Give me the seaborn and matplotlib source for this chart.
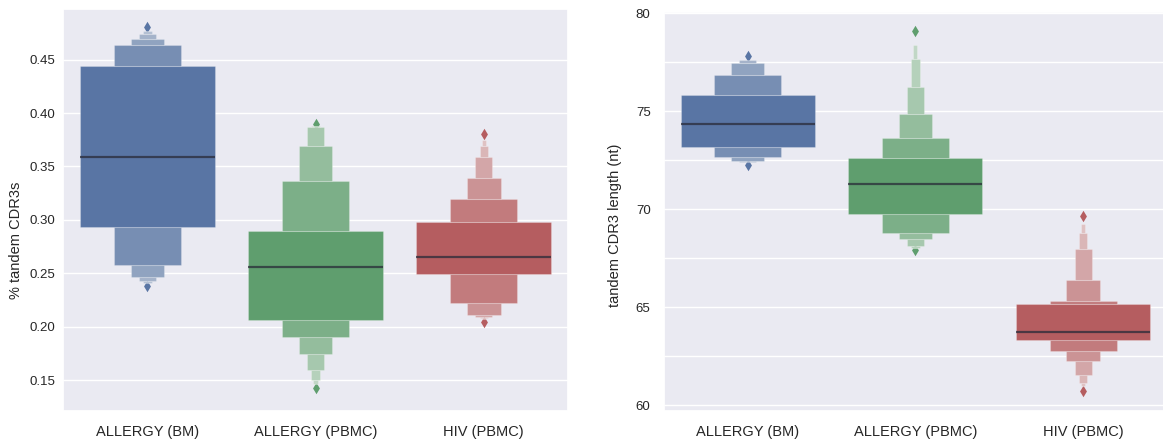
import numpy as np
import pandas as pd
import matplotlib
matplotlib.use("Agg")
import matplotlib.pyplot as plt
import seaborn as sns

# ---------------------------------------------------------------------------
# Sample groups and colours
groups = ["ALLERGY (BM)", "ALLERGY (PBMC)", "HIV (PBMC)"]
base_colors = ["#4C72B0", "#55A868", "#C44E52"]

# Letter values per group: lower tail (outermost -> innermost), median,
# upper tail (innermost -> outermost) and the single outlier on each side.
# ---- % tandem CDR3s
frac_lower = [
    [0.2404, 0.2425, 0.2466, 0.2575, 0.2930],
    [0.1460, 0.1497, 0.1596, 0.1747, 0.1902, 0.2061],
    [0.2068, 0.2078, 0.2092, 0.2111, 0.2223, 0.2494],
]
frac_median = [0.3591, 0.2560, 0.2653]
frac_upper = [
    [0.4441, 0.4637, 0.4693, 0.4740, 0.4771],
    [0.2899, 0.3364, 0.3693, 0.3871, 0.3876, 0.3882],
    [0.2983, 0.3195, 0.3392, 0.3593, 0.3693, 0.3750],
]
frac_out_low = [0.2380, 0.1425, 0.2042]
frac_out_high = [0.4804, 0.3900, 0.3803]

# ---- tandem CDR3 length (nt)
len_lower = [
    [72.39, 72.47, 72.67, 73.19],
    [68.00, 68.04, 68.10, 68.46, 68.80, 69.77],
    [60.99, 61.12, 61.52, 62.23, 62.77, 63.32],
]
len_median = [74.35, 71.29, 63.73]
len_upper = [
    [75.83, 76.87, 77.47, 77.62],
    [72.60, 73.62, 74.85, 76.23, 77.67, 78.39],
    [65.14, 65.31, 66.38, 67.98, 68.80, 69.23],
]
len_out_low = [72.28, 67.92, 60.71]
len_out_high = [77.82, 79.12, 69.67]

# Axis ticks
frac_ticks = [0.15, 0.20, 0.25, 0.30, 0.35, 0.40, 0.45]
frac_ticklabels = ["0.15", "0.20", "0.25", "0.30", "0.35", "0.40", "0.45"]
len_ticks = [60, 62.5, 65, 67.5, 70, 72.5, 75, 77.5, 80]
len_ticklabels = ["60", "", "65", "", "70", "", "75", "", "80"]


def observations(lower, median, upper, out_low, out_high):
    """Sorted sample of 2**(k+3)+1 values whose Tukey letter values are
    exactly the given ones (k = number of boxes per tail)."""
    k = len(lower)
    n_last = 2 ** (k + 3)
    lower_ranks = [2 ** (k + 3 - e) for e in range(k + 1, 1, -1)]
    upper_ranks = [n_last - 2 ** (k + 3 - e) for e in range(2, k + 2)]
    obs = [out_low]
    prev = 0
    for rank, v in zip(lower_ranks + [n_last // 2], list(lower) + [median]):
        obs += [v] * (rank - prev)
        prev = rank
    for rank, v_prev, v in zip(upper_ranks + [n_last],
                               [median] + list(upper),
                               list(upper) + [out_high]):
        obs += [v_prev] * (rank - prev - 1) + [v]
        prev = rank
    return obs


def build_table(lower, median, upper, out_low, out_high):
    frames = []
    for g, lo, md, up, ol, oh in zip(groups, lower, median, upper, out_low, out_high):
        vals = observations(lo, md, up, ol, oh)
        frames.append(pd.DataFrame({"group": g, "value": vals}))
    return pd.concat(frames, ignore_index=True)


frac_df = build_table(frac_lower, frac_median, frac_upper, frac_out_low, frac_out_high)
len_df = build_table(len_lower, len_median, len_upper, len_out_low, len_out_high)

# ---------------------------------------------------------------------------
sns.set_theme(style="darkgrid")
plt.rcParams["font.family"] = ["Liberation Sans", "DejaVu Sans"]

W, H = 1163, 446
fig = plt.figure(figsize=(W / 100, H / 100), dpi=100)
ax1 = fig.add_axes([63.3 / W, (H - 410.7) / H, 504.5 / W, 401.7 / H])
ax2 = fig.add_axes([663.8 / W, (H - 410.7) / H, 503.2 / W, 399.0 / H])

flier_colors = sns.color_palette(base_colors, desat=0.75)


def draw(ax, df):
    sns.boxenplot(
        data=df, x="group", y="value", hue="group",
        order=groups, hue_order=groups, palette=base_colors,
        legend=False, ax=ax, width=0.8, k_depth="tukey",
        linewidth=0.8,
        box_kws={"edgecolors": (1, 1, 1, 0.22)},
        line_kws={"color": (0.16, 0.17, 0.22, 0.75), "linewidth": 1.6},
        flier_kws={"marker": "d", "s": 34, "facecolor": "k",
                   "linewidth": 0, "zorder": 0.95},
    )
    scat = [c for c in ax.collections
            if isinstance(c, matplotlib.collections.PathCollection)]
    for c, col in zip(scat, flier_colors):
        c.set_facecolor(col)
        c.set_edgecolor(col)
    ax.set_xlabel("")
    ax.tick_params(axis="both", length=0)
    ax.tick_params(axis="x", labelsize=10.5, pad=10.5)
    ax.tick_params(axis="y", labelsize=9.5)


draw(ax1, frac_df)
ax1.set_ylim(0.1213, 0.4974)
ax1.set_yticks(frac_ticks, frac_ticklabels)
ax1.set_ylabel("% tandem CDR3s", fontsize=10.5)
ax1.yaxis.set_label_coords(-0.079, 0.425)
ax1.tick_params(axis="y", pad=5.5)

draw(ax2, len_df)
ax2.set_ylim(59.71, 80.09)
ax2.set_yticks(len_ticks, len_ticklabels)
ax2.set_ylabel("tandem CDR3 length (nt)", fontsize=10.5)
ax2.yaxis.set_label_coords(-0.083, 0.465)
ax2.tick_params(axis="y", pad=9.5)

fig.savefig("out.png", dpi=100)
